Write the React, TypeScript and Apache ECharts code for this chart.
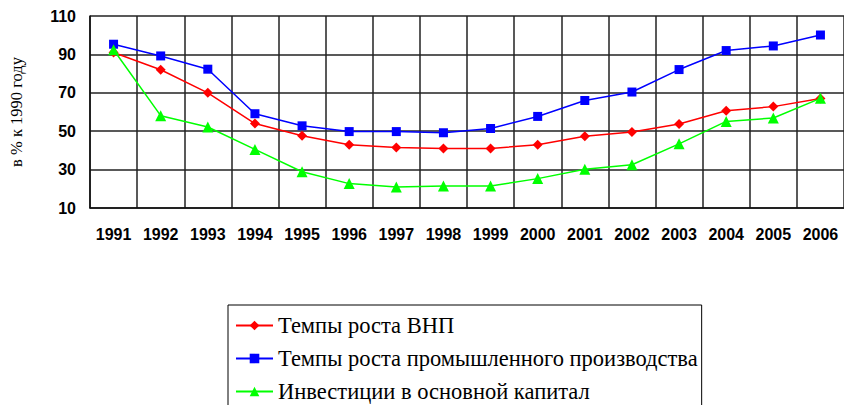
import React, { useEffect, useRef } from "react";
import * as echarts from "echarts";

const years = ["1991","1992","1993","1994","1995","1996","1997","1998","1999","2000","2001","2002","2003","2004","2005","2006"];
const gnp = [91, 82, 70, 54, 47.6, 43, 41.5, 41, 41, 43, 47.4, 49.6, 53.8, 60.7, 62.8, 67];
const industry = [95.3, 89.2, 82.3, 59.1, 52.8, 49.8, 49.8, 49.2, 51.4, 57.7, 66, 70.4, 82.1, 92, 94.4, 100.1];
const investment = [92.4, 58.1, 52.2, 40.5, 28.9, 22.7, 21, 21.4, 21.4, 25.3, 30.2, 32.5, 43.4, 55.1, 56.9, 67.1];
const seriesNames = ["Темпы роста ВНП", "Темпы роста промышленного производства", "Инвестиции в основной капитал"];
const yAxisTitle = "в % к 1990 году";

export default function App() {
  const ref = useRef<HTMLDivElement>(null);
  useEffect(() => {
    const chart = echarts.init(ref.current!, null, { renderer: "svg" });
    const mk = (name: string, data: number[], color: string, symbol: string, size: number) => ({
      name,
      type: "line",
      data,
      symbol,
      symbolSize: size,
      lineStyle: { color, width: 1.5 },
      itemStyle: { color },
    });
    chart.setOption({
      animation: false,
      backgroundColor: "#fff",
      grid: { left: 87, top: 16, width: 757, height: 192, containLabel: false },
      xAxis: {
        type: "category",
        data: years,
        boundaryGap: true,
        axisLine: { show: true, lineStyle: { color: "#111", width: 1.5 } },
        axisTick: { show: false },
        splitLine: { show: true, lineStyle: { color: "#222", width: 1.5 } },
        axisLabel: { color: "#000", fontWeight: "bold", fontSize: 16, fontFamily: "Liberation Sans", margin: 18, interval: 0 },
      },
      yAxis: {
        type: "value",
        min: 10,
        max: 110,
        interval: 20,
        name: yAxisTitle,
        nameLocation: "middle",
        nameRotate: 90,
        nameGap: 65,
        nameTextStyle: { color: "#000", fontFamily: "Liberation Serif", fontSize: 16.5 },
        axisLine: { show: true, lineStyle: { color: "#111", width: 1.5 } },
        axisTick: { show: false },
        splitLine: { show: true, lineStyle: { color: "#222", width: 1.5 } },
        axisLabel: { color: "#000", fontWeight: "bold", fontSize: 16, fontFamily: "Liberation Sans", margin: 14 },
      },
      legend: {
        orient: "vertical",
        left: 228,
        top: 305,
        height: 150,
        padding: [9, 4, 30, 7],
        borderColor: "#000",
        borderWidth: 1,
        itemWidth: 37,
        itemHeight: 12,
        itemGap: 10,
        textStyle: { color: "#000", fontFamily: "Liberation Serif", fontSize: 22.5, lineHeight: 20 },
        data: seriesNames,
      },
      series: [
        mk(seriesNames[0], gnp, "#ff0000", "diamond", 10),
        mk(seriesNames[1], industry, "#0000ff", "rect", 9),
        mk(seriesNames[2], investment, "#00ff00", "triangle", 11),
      ],
    });
    return () => chart.dispose();
  }, []);
  return <div ref={ref} style={{ position: "absolute", left: 0, top: 0, width: 844, height: 405 }} />;
}
